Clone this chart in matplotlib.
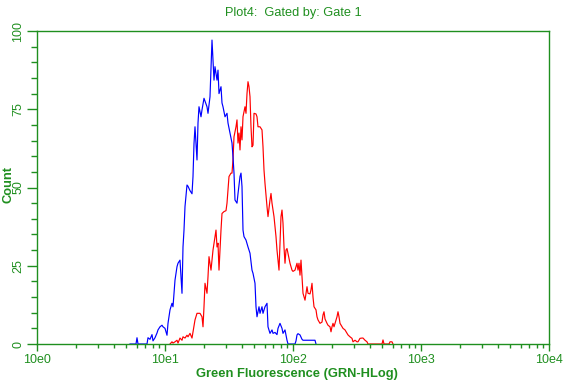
import matplotlib
matplotlib.use('Agg')
import matplotlib.pyplot as plt
import numpy as np
from matplotlib.ticker import FixedLocator, MultipleLocator, NullFormatter, LogLocator

plt.rcParams['font.family'] = ['Liberation Sans', 'DejaVu Sans']

GREEN = '#1f8f1f'

# Histogram data: channel (128 channels per decade, log scale) and counts
blue_channels = [93, 99, 100, 101, 110, 111, 113, 115, 116, 118, 120, 121, 123, 125, 126, 128,
                 130, 131, 133, 135, 136, 138, 140, 141, 143, 145, 146, 147, 148, 150, 151, 153,
                 155, 156, 157, 158, 160, 161, 162, 164, 165, 167, 170, 171, 173, 175, 176, 177,
                 178, 180, 181, 182, 184, 185, 186, 188, 190, 191, 193, 195, 196, 197, 198, 200,
                 201, 203, 204, 205, 206, 207, 209, 211, 213, 215, 216, 218, 219, 220, 222, 223,
                 225, 226, 228, 230, 231, 233, 235, 236, 238, 240, 241, 243, 245, 246, 248, 250,
                 251, 258, 259, 260, 261, 263, 265, 266, 278, 279]
blue_counts = [0, 0, 2, 0, 0, 2, 1.5, 3, 1, 2, 3.5, 4.5, 5.5, 6, 5.5, 5,
               2.8, 6.6, 10.9, 13, 11.9, 20.4, 24.7, 25.8, 26.8, 16.2, 31, 36.4, 43.9, 50.8, 50.4, 49,
               48, 53.5, 64, 69.4, 58.8, 70.6, 75.8, 72.6, 74.8, 78.5, 75.8, 73.7, 79, 97.1, 90.7, 84.3,
               88.6, 84.3, 87.5, 80, 82.2, 77, 75.8, 72.6, 73.7, 70.6, 67.4, 64.2, 59.8, 54.6, 46, 45,
               48, 53.5, 54.6, 50.3, 36.4, 34.3, 33.2, 31, 29, 23.6, 22.6, 19.4, 11.9, 8.7, 11.9, 9.8,
               11.9, 9.8, 11.9, 13, 5.5, 3.4, 4.5, 3.4, 3.7, 3, 5, 6.6, 5, 3.4, 4.5, 1.2,
               0, 0, 1, 2.9, 3.3, 2.9, 1.5, 1.2, 1.2, 0]

red_channels = [133, 135, 136, 138, 140, 141, 143, 145, 146, 148, 150, 151, 153, 155, 156, 158,
                160, 161, 163, 165, 166, 167, 168, 170, 171, 172, 174, 175, 176, 177, 179, 180,
                181, 182, 184, 185, 187, 189, 190, 191, 192, 194, 195, 196, 197, 199, 200, 201,
                202, 203, 204, 205, 206, 208, 209, 210, 211, 212, 213, 214, 215, 216, 217, 219,
                220, 221, 223, 225, 226, 227, 228, 230, 231, 233, 234, 235, 236, 237, 239, 240,
                241, 242, 244, 245, 246, 247, 248, 249, 250, 251, 253, 255, 256, 258, 260, 261,
                262, 263, 264, 265, 266, 268, 270, 271, 273, 274, 275, 276, 277, 279, 280, 281,
                283, 285, 286, 287, 288, 290, 291, 293, 294, 295, 296, 297, 299, 300, 301, 302,
                303, 305, 306, 308, 310, 311, 313, 315, 316, 318, 320, 321, 323, 325, 326, 328,
                330, 331, 345, 346, 347, 352, 353, 355, 356]
red_counts = [0, 0.7, 0.3, 0.7, 1.2, 0.3, 1.9, 1.2, 2.3, 1.9, 2.8, 2.3, 3.4, 1.9, 3.9, 7.7,
              9.8, 9.8, 9.8, 8.7, 5.5, 11.9, 19.4, 16.2, 21.5, 27.9, 23.6, 26.8, 30, 32.2, 36.4, 31,
              32.2, 23.6, 36.4, 41.7, 42.3, 42.6, 45, 49.2, 53.5, 54.6, 54.6, 59, 66.2, 69.4, 71.6, 64.2,
              67.4, 62, 69.4, 65.2, 72.6, 75.8, 73.7, 80, 83.8, 82.2, 79, 69.4, 63, 63.5, 73.7, 73.5,
              72.6, 69.4, 69.4, 68.4, 63, 55.6, 51.3, 43.9, 40.7, 46, 48.1, 45, 42.8, 40.7, 34.3, 30,
              26.8, 23.6, 40.7, 42.8, 38.6, 31, 25.8, 30, 30.5, 28.9, 25.8, 23.6, 23.2, 23.6, 25.8, 23.6,
              25.8, 22, 26.8, 21.5, 16.2, 14, 18.3, 16.2, 16, 17.3, 19.4, 15, 11.9, 10.9, 8.7, 7.7,
              6.6, 7, 9.3, 10.3, 8, 6.6, 6, 5.5, 3.9, 5.5, 6.6, 5.5, 7.7, 8.7, 10.3, 8.7,
              6.6, 5.5, 5, 4.5, 3.4, 2.9, 2.3, 1.8, 0.7, 1.2, 0.7, 0.7, 1.8, 1.9, 1.9, 1.2,
              0.7, 0, 0, 1.3, 0, 0, 0.7, 0.7, 0]

CHANNELS_PER_DECADE = 128
x_tick_values = [1, 10, 100, 1000, 10000]
x_tick_labels = ['10e0', '10e1', '10e2', '10e3', '10e4']
y_tick_values = [0, 25, 50, 75, 100]
y_tick_labels = ['0', '25', '50', '75', '100']

fig = plt.figure(figsize=(5.74, 3.84), dpi=100)
ax = fig.add_axes([37 / 574, 40 / 384, 512 / 574, 313 / 384])

bx = 10 ** (np.array(blue_channels) / CHANNELS_PER_DECADE)
rx = 10 ** (np.array(red_channels) / CHANNELS_PER_DECADE)
ax.plot(bx, blue_counts, color='#0000ff', lw=0.85, zorder=2)
ax.plot(rx, red_counts, color='#ff0000', lw=0.85, zorder=1.9)

ax.set_xscale('log')
ax.set_xlim(1, 1e4)
ax.set_ylim(0, 100)

for s in ax.spines.values():
    s.set_color(GREEN)
    s.set_linewidth(1.0)
    s.set_zorder(3)

ax.xaxis.set_major_locator(FixedLocator(x_tick_values))
ax.set_xticklabels(x_tick_labels)
ax.xaxis.set_minor_locator(LogLocator(base=10, subs=np.arange(2, 10)))
ax.xaxis.set_minor_formatter(NullFormatter())
ax.yaxis.set_major_locator(FixedLocator(y_tick_values))
ax.set_yticklabels(y_tick_labels)
ax.yaxis.set_minor_locator(MultipleLocator(5))

ax.tick_params(axis='both', which='both', colors=GREEN, labelcolor=GREEN, direction='out', width=1)
ax.tick_params(axis='x', which='major', length=5, pad=2, labelsize=9)
ax.tick_params(axis='x', which='minor', length=3)
ax.tick_params(axis='y', which='major', length=7, pad=2, labelsize=9, labelrotation=90)
ax.tick_params(axis='y', which='minor', length=4)
for lbl in ax.get_yticklabels():
    lbl.set_va('center')

fig.text(293 / 574, 1 - 13 / 384, 'Plot4:  Gated by: Gate 1', color=GREEN,
         fontsize=9.2, ha='center', va='center')
fig.text(297 / 574, 1 - 374 / 384, 'Green Fluorescence (GRN-HLog)', color=GREEN,
         fontsize=9.3, fontweight='bold', ha='center', va='center')
fig.text(8 / 574, 1 - 184 / 384, 'Count', color=GREEN, fontsize=9.3, fontweight='bold',
         ha='center', va='center', rotation=90)

fig.savefig('out.png', dpi=100)
